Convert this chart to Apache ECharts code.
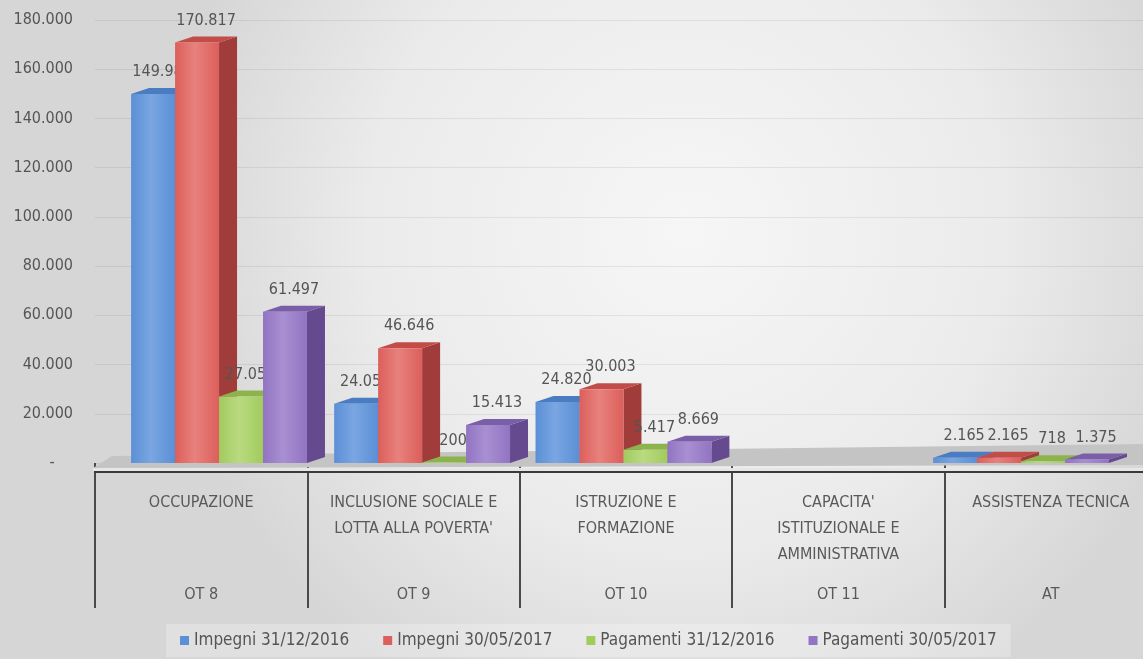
<!DOCTYPE html>
<html>
<head>
<meta charset="utf-8">
<script src="https://cdn.jsdelivr.net/npm/echarts@6/dist/echarts.min.js"></script>
<style>
  html, body { margin: 0; padding: 0; }
  #chart { width: 1143px; height: 659px; }
</style>
</head>
<body>
<div id="chart"></div>
<script>
const categories = ['OCCUPAZIONE', "INCLUSIONE SOCIALE E\nLOTTA ALLA POVERTA'", 'ISTRUZIONE E\nFORMAZIONE', "CAPACITA'\nISTITUZIONALE E\nAMMINISTRATIVA", 'ASSISTENZA TECNICA']
const codes = ['OT 8', 'OT 9', 'OT 10', 'OT 11', 'AT']
const seriesNames = ['Impegni 31/12/2016', 'Impegni 30/05/2017', 'Pagamenti 31/12/2016', 'Pagamenti 30/05/2017']
const impegni2016 = [149980, 24054, 24820, null, 2165]
const impegni2017 = [170817, 46646, 30003, null, 2165]
const pagamenti2016 = [27058, 200, 5417, null, 718]
const pagamenti2017 = [61497, 15413, 8669, null, 1375]
const yTicks = [0, 20000, 40000, 60000, 80000, 100000, 120000, 140000, 160000, 180000]

const seriesValues = [impegni2016, impegni2017, pagamenti2016, pagamenti2017]
const palette = [
  { front: '#5b8fd6', light: '#7aa6e2', side: '#3f68a3', top: '#4a7cc2' },
  { front: '#dc5f5b', light: '#e8817d', side: '#a03d3a', top: '#c24c48' },
  { front: '#a2cb5e', light: '#b9da80', side: '#76973c', top: '#8db34d' },
  { front: '#9274c2', light: '#a98fd2', side: '#654a8f', top: '#7a5ea8' },
]
const FONT = "'Liberation Sans Narrow', 'DejaVu Sans Condensed', sans-serif"

function fmt(v) {
  return String(v).replace(/\B(?=(\d{3})+(?!\d))/g, '.')
}

// 3D-looking bar: front face + side + top, with a perspective drift to the left
function renderItem(params, api) {
  const s = params.seriesIndex
  const c = api.value(0)
  const v = api.value(1)
  const base = api.coord([c, 0])
  const top = api.coord([c, v])
  const band = api.size([1, 0])[0]
  const bw = band * 0.207
  const shift = band * (0.33 + 0.04 * c + 0.004 * c * c)
  const x0 = base[0] - shift + s * bw
  const x1 = x0 + bw
  const yb = base[1]
  const yt = top[1]
  const dx = 18
  const dy = -6
  const cl = palette[s]
  return {
    type: 'group',
    children: [
      {
        type: 'polygon',
        shape: { points: [[x1, yt], [x1 + dx, yt + dy], [x1 + dx, yb + dy], [x1, yb]] },
        style: { fill: cl.side },
      },
      {
        type: 'polygon',
        shape: { points: [[x0, yt], [x0 + dx, yt + dy], [x1 + dx, yt + dy], [x1, yt]] },
        style: { fill: cl.top },
      },
      {
        type: 'rect',
        shape: { x: x0, y: yt, width: bw, height: yb - yt },
        style: {
          fill: new echarts.graphic.LinearGradient(0, 0, 1, 0, [
            { offset: 0, color: cl.front },
            { offset: 0.45, color: cl.light },
            { offset: 1, color: cl.front },
          ]),
        },
      },
      {
        type: 'text',
        x: (x0 + x1 + dx) / 2,
        y: yt - 22,
        style: {
          text: fmt(v),
          align: 'center',
          verticalAlign: 'middle',
          fill: '#555',
          font: '16px ' + FONT,
        },
      },
    ],
  }
}

const chartInstance = echarts.init(document.getElementById('chart'))

const option = {
  animation: false,
  backgroundColor: new echarts.graphic.RadialGradient(0.6, 0.35, 0.8, [
    { offset: 0, color: '#f6f6f6' },
    { offset: 0.6, color: '#ebebeb' },
    { offset: 1, color: '#d6d6d6' },
  ]),
  grid: {
    left: 95,
    width: 1062,
    top: 20,
    bottom: 196,
    outerBoundsMode: 'none',
  },
  legend: {
    bottom: 2,
    left: 166,
    icon: 'rect',
    itemWidth: 9,
    itemHeight: 9,
    itemGap: 34,
    padding: [8, 14],
    backgroundColor: 'rgba(255,255,255,0.25)',
    textStyle: { color: '#555', fontSize: 17, fontFamily: FONT },
    data: seriesNames,
  },
  xAxis: {
    type: 'category',
    data: categories,
    z: 0,
    axisLine: { show: false },
    axisTick: { show: true, interval: 0, length: 145, lineStyle: { color: '#4a4a4a', width: 2 } },
    axisLabel: {
      interval: 0,
      margin: 27,
      formatter: function (value, idx) {
        const lines = value.split('\n')
        while (lines.length < 3) lines.push(' ')
        return lines.map(l => '{n|' + l + '}').join('\n') + '\n{c|' + codes[idx] + '}'
      },
      rich: {
        n: { fontSize: 16, lineHeight: 26, color: '#595959', fontFamily: FONT },
        c: { fontSize: 16, lineHeight: 54, color: '#595959', fontFamily: FONT },
      },
    },
  },
  yAxis: {
    type: 'value',
    min: yTicks[0],
    max: yTicks[yTicks.length - 1],
    interval: yTicks[1] - yTicks[0],
    axisLine: { show: false },
    axisTick: { show: false },
    axisLabel: {
      margin: 22,
      color: '#555',
      fontSize: 16,
      fontFamily: FONT,
      formatter: v => (v === 0 ? '-    ' : fmt(v)),
    },
    splitLine: { lineStyle: { color: 'rgba(0,0,0,0.07)' } },
  },
  graphic: [
    {
      type: 'polygon',
      z: 1,
      shape: { points: [[112, 456], [1143, 444], [1143, 465], [93, 468]] },
      style: { fill: '#c4c4c4' },
    },
    {
      type: 'rect',
      z: 1,
      shape: { x: 93, y: 468, width: 1060, height: 3 },
      style: { fill: '#e6e6e6' },
    },
    {
      type: 'line',
      z: 2,
      shape: { x1: 94, y1: 472, x2: 1143, y2: 472 },
      style: { stroke: '#3a3a3a', lineWidth: 2 },
    },
  ],
  series: seriesValues.map((vals, s) => ({
    name: seriesNames[s],
    type: 'custom',
    z: 5,
    renderItem: renderItem,
    itemStyle: { color: palette[s].front },
    encode: { x: 0, y: 1 },
    data: vals.map((v, i) => [i, v]).filter(d => d[1] !== null),
  })),
}

option && chartInstance.setOption(option)
</script>
</body>
</html>
